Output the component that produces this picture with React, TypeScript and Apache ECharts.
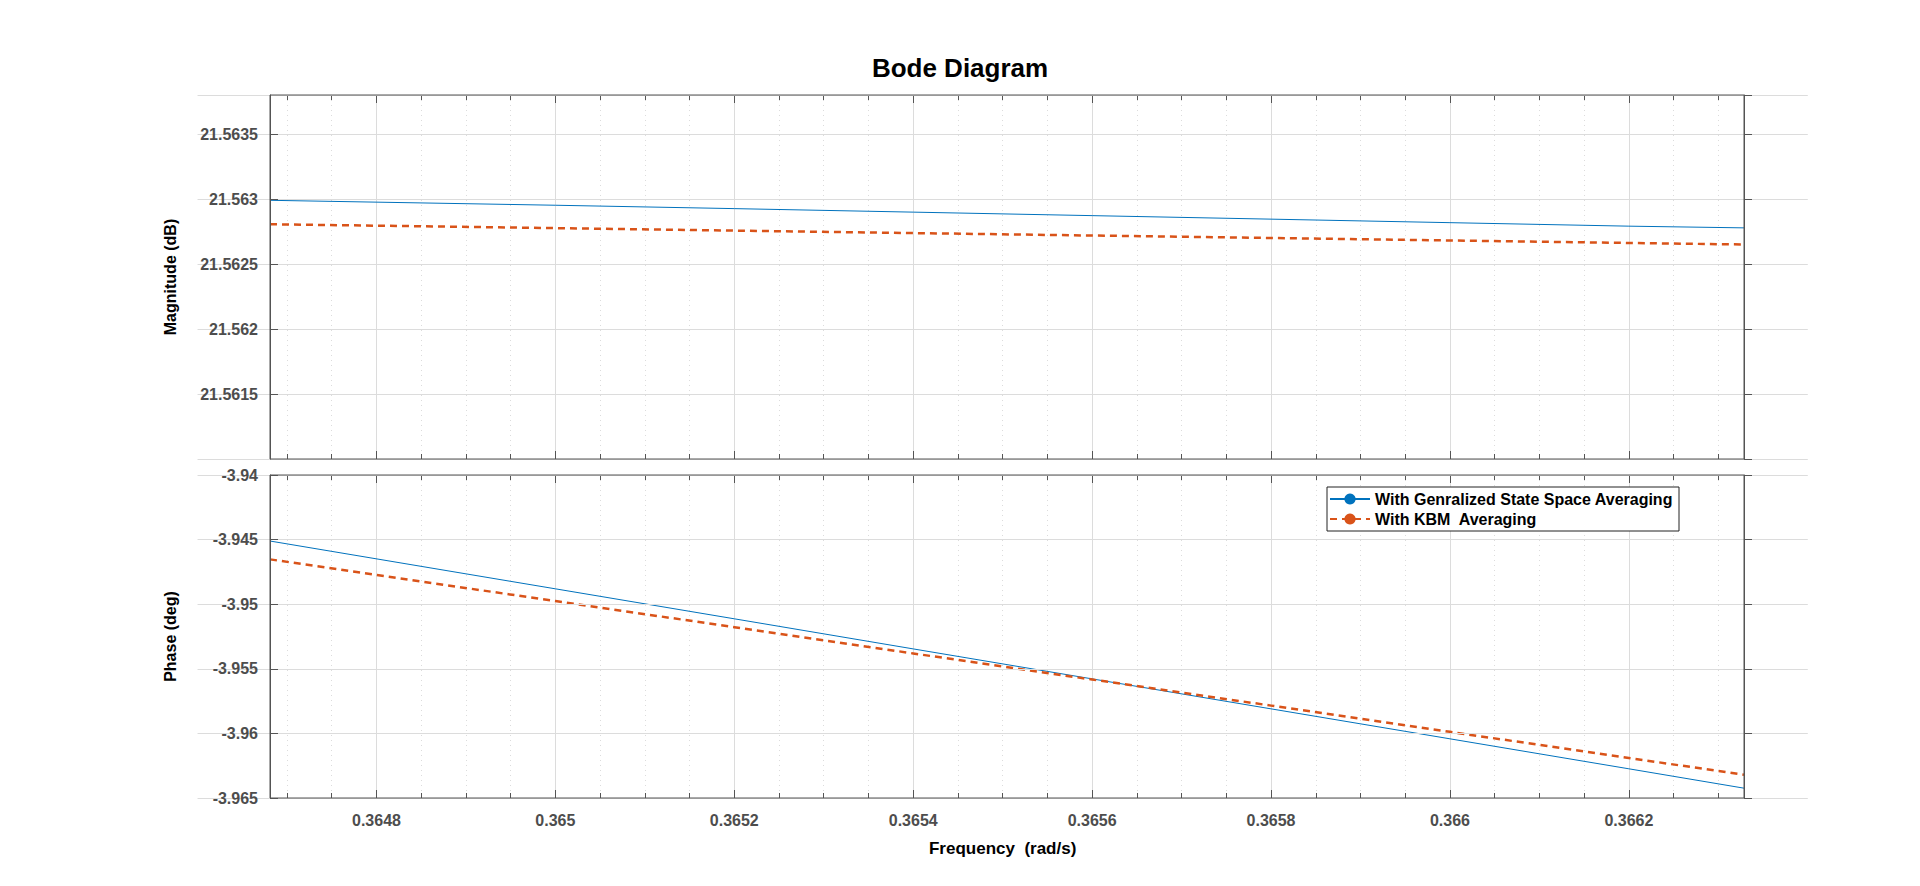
import React, { useEffect, useRef } from "react";
import * as echarts from "echarts";

const freq = [0.364681, 0.365, 0.3652, 0.3654, 0.3656, 0.3658, 0.366, 0.3662, 0.3663287];
const magGSSA = [21.56299, 21.562952, 21.562926, 21.562899, 21.562872, 21.562845, 21.562818, 21.562791, 21.562778];
const magKBM = [21.562806, 21.562776, 21.562757, 21.562738, 21.562719, 21.5627, 21.562681, 21.562662, 21.56265];
const phGSSA = [-3.94511, -3.94881, -3.95113, -3.95346, -3.95578, -3.9581, -3.96042, -3.96274, -3.96424];
const phKBM = [-3.94653, -3.94976, -3.95178, -3.95381, -3.95583, -3.95785, -3.95988, -3.9619, -3.9632];
const seriesNames = ["With Genralized State Space Averaging", "With KBM  Averaging"];

const FONT = "Liberation Sans, Arial, sans-serif";
const lbl = { color: "#4d4d4d", fontWeight: "bold" as const, fontSize: 16, fontFamily: FONT };
// visible window
const V0 = 0.364681, V1 = 0.3663287;
const PL = 262, PR = 1736;
// axis extent (multiples of the tick interval)
const X0 = 0.3646, X1 = 0.3664;
const ppu = (PR - PL) / (V1 - V0);
const GL = PL - (V0 - X0) * ppu;
const GW = (X1 - X0) * ppu;
const GR = GL + GW;

function xAx(gridIndex: number, labels: boolean, pos: string) {
  return {
    type: "value", gridIndex, min: X0, max: X1, interval: 0.0002, position: pos,
    axisLine: { show: false },
    axisTick: { show: true, inside: true, length: 8, lineStyle: { color: "#555" } },
    minorTick: { show: true, splitNumber: 4, length: 5, lineStyle: { color: "#555" } },
    splitLine: { show: labels, lineStyle: { color: "#dcdcdc" } },
    minorSplitLine: { show: labels, lineStyle: { color: "#dcdcdc", type: [1, 4] } },
    axisLabel: labels && gridIndex === 1 ? { ...lbl, margin: 14, formatter: (v: number) => String(+v.toFixed(4)), showMinLabel: false, showMaxLabel: false } : { show: false },
    name: labels && gridIndex === 1 ? "Frequency  (rad/s)" : "",
    nameLocation: "middle", nameGap: 42,
    nameTextStyle: { color: "#000", fontWeight: "bold", fontSize: 17, fontFamily: FONT },
  };
}
function yAx(gridIndex: number, min: number, max: number, interval: number, name: string, labels: boolean, pos: string, minLabel: boolean) {
  return {
    type: "value", gridIndex, min, max, interval, position: pos, z: 10,
    offset: pos === "left" ? -(PL - GL) : -(GR - PR),
    axisLine: { show: true, lineStyle: { color: "#555", width: 1 } },
    axisTick: { show: true, inside: pos === "left", length: 8, lineStyle: { color: "#555" } },
    splitLine: { show: labels, lineStyle: { color: "#dcdcdc" } },
    axisLabel: labels ? { ...lbl, margin: 12, formatter: (v: number) => String(+v.toFixed(4)), showMinLabel: minLabel, showMaxLabel: minLabel } : { show: false },
    name: labels ? name : "", nameLocation: "middle", nameGap: 92,
    nameTextStyle: { color: "#000", fontWeight: "bold", fontSize: 16, fontFamily: FONT },
  };
}

export default function App() {
  const ref = useRef<HTMLDivElement>(null);
  useEffect(() => {
    const chart = echarts.init(ref.current!, null, { renderer: "svg" });
    const pair = (xs: number[], ys: number[]) => xs.map((x, i) => [x, ys[i]]);
    const grids = [
      { top: 87, height: 364 },
      { top: 467, height: 323 },
    ];
    const frames: any[] = [];
    grids.forEach((g) => {
      frames.push({ type: "rect", z: 5, shape: { x: 0, y: g.top - 12, width: PL - 0.5, height: g.height + 24 }, style: { fill: "#fff" } });
      frames.push({ type: "rect", z: 5, shape: { x: PR + 0.5, y: g.top - 12, width: 1920 - PR, height: g.height + 24 }, style: { fill: "#fff" } });
      frames.push({ type: "rect", z: 20, shape: { x: PL, y: g.top, width: PR - PL, height: g.height }, style: { fill: "none", stroke: "#555", lineWidth: 1 } });
    });
    chart.setOption({
      animation: false,
      backgroundColor: "#fff",
      title: { text: "Bode Diagram", left: "center", top: 42, textStyle: { fontSize: 26, fontWeight: "bold", color: "#000", fontFamily: FONT } },
      grid: grids.map((g) => ({ left: GL, width: GW, top: g.top, height: g.height })),
      xAxis: [xAx(0, true, "bottom"), xAx(1, true, "bottom"), xAx(0, false, "top"), xAx(1, false, "top")],
      yAxis: [
        yAx(0, 21.561, 21.5638, 0.0005, "Magnitude (dB)", true, "left", false),
        yAx(1, -3.965, -3.94, 0.005, "Phase (deg)", true, "left", true),
        yAx(0, 21.561, 21.5638, 0.0005, "", false, "right", false),
        yAx(1, -3.965, -3.94, 0.005, "", false, "right", true),
      ],
      graphic: frames,
      legend: {
        left: 1319, top: 479, orient: "vertical", itemGap: 4, itemWidth: 40, itemHeight: 14, z: 30,
        backgroundColor: "#fff", borderColor: "#222", borderWidth: 1, padding: [4, 6, 4, 2],
        textStyle: { color: "#000", fontWeight: "bold", fontSize: 16, fontFamily: FONT },
        data: seriesNames,
      },
      series: [
        { name: seriesNames[0], type: "line", xAxisIndex: 0, yAxisIndex: 0, data: pair(freq, magGSSA), symbol: "none", lineStyle: { color: "#0072BD", width: 1 }, itemStyle: { color: "#0072BD" } },
        { name: seriesNames[1], type: "line", xAxisIndex: 0, yAxisIndex: 0, data: pair(freq, magKBM), symbol: "none", lineStyle: { color: "#D95319", width: 2.5, type: [7, 5] }, itemStyle: { color: "#D95319" } },
        { name: seriesNames[0], type: "line", xAxisIndex: 1, yAxisIndex: 1, data: pair(freq, phGSSA), symbol: "none", lineStyle: { color: "#0072BD", width: 1 }, itemStyle: { color: "#0072BD" } },
        { name: seriesNames[1], type: "line", xAxisIndex: 1, yAxisIndex: 1, data: pair(freq, phKBM), symbol: "none", lineStyle: { color: "#D95319", width: 2.5, type: [7, 5] }, itemStyle: { color: "#D95319" } },
      ],
    });
    return () => chart.dispose();
  }, []);
  return <div ref={ref} style={{ width: 1904, height: 870 }} />;
}
